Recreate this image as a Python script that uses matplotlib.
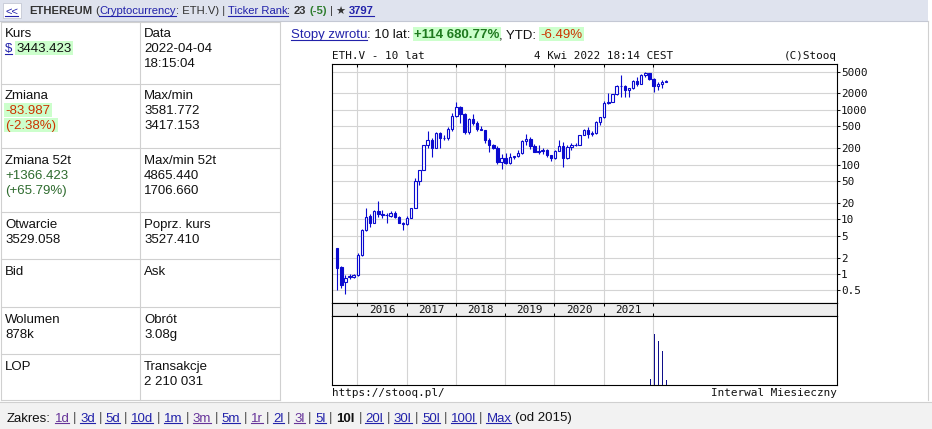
import matplotlib
matplotlib.use('Agg')
import matplotlib.pyplot as plt
from matplotlib.patches import Rectangle
from matplotlib.ticker import NullLocator
import pandas as pd

# monthly candles ETH.V, Aug 2015 .. Apr 2022
start_month = '2015-08'
opens = [3.00, 1.36, 0.70, 0.88, 0.88,
         0.95, 2.2, 6.4, 11.5, 8.6, 14.1, 12.6, 11.8, 11.6, 13.2, 11.1, 8.6,
         8.1, 10.7, 15.8, 50, 79, 228, 280, 202, 383, 301, 305, 445,
         760, 1118, 855, 397, 670, 578, 455, 433, 283, 233, 198, 113,
         133, 107, 136, 141, 162, 268, 294, 218, 172, 180, 182, 151,
         130, 180, 218, 133, 206, 231, 226, 345, 434, 359, 386, 612,
         737, 1314, 1417, 1918, 2773, 2706, 2275, 2536, 3433, 3001, 4288, 4631,
         3683, 2688, 2918, 3282]
highs = [3.02, 1.42, 0.96, 1.00, 1.00,
         2.4, 6.6, 15.9, 12.3, 14.9, 21.5, 14.8, 12.9, 14.0, 14.0, 11.3, 8.8,
         11.5, 16.4, 56, 80, 230, 420, 300, 395, 395, 350, 480, 860,
         1420, 1160, 880, 700, 835, 625, 515, 435, 300, 235, 222, 157,
         160, 165, 146, 185, 287, 362, 315, 235, 225, 198, 195, 152,
         185, 287, 254, 227, 245, 253, 347, 445, 487, 415, 620, 754,
         1475, 2040, 1947, 2797, 4380, 2890, 2550, 3470, 4030, 4460, 4890, 4780,
         3880, 3280, 3480, 3581]
lows = [0.51, 0.55, 0.43, 0.80, 0.85,
        0.92, 2.1, 6.1, 7.2, 8.4, 10.8, 10.6, 8.4, 11.2, 10.6, 8.4, 6.4,
        7.9, 10.4, 15.8, 42, 79, 200, 136, 198, 200, 285, 285, 420,
        750, 575, 370, 365, 525, 405, 425, 250, 168, 190, 102, 83,
        102, 104, 128, 139, 158, 232, 190, 167, 153, 157, 140, 117,
        127, 180, 90, 127, 183, 222, 226, 343, 310, 335, 370, 535,
        714, 1270, 1440, 1883, 1720, 1700, 1720, 2450, 2740, 2970, 3960, 3530,
        2160, 2300, 2500, 3210]
closes = [1.30, 0.62, 0.86, 0.90, 0.95,
          2.2, 6.4, 11.2, 8.6, 14.1, 12.3, 11.8, 12.0, 13.3, 11.2, 8.6, 8.1,
          10.7, 15.8, 50, 79, 228, 280, 202, 383, 301, 305, 445, 760,
          1118, 855, 397, 670, 578, 455, 433, 283, 233, 198, 113, 133,
          107, 136, 141, 162, 268, 294, 218, 172, 180, 182, 151, 130,
          180, 218, 133, 206, 231, 226, 345, 434, 359, 386, 612, 737,
          1314, 1417, 1918, 2773, 2706, 2275, 2536, 3433, 3001, 4288, 4631, 3683,
          2688, 2918, 3282, 3443]

vol_months = ['2021-12', '2022-01', '2022-02', '2022-03', '2022-04']
volumes = [5.3e6, 44.0e6, 38.0e6, 29.3e6, 3.9e6]

year_labels = [2016, 2017, 2018, 2019, 2020, 2021]
year_grid = [2016, 2017, 2018, 2019, 2020, 2021, 2022]
yticks = [0.5, 1, 2, 5, 10, 20, 50, 100, 200, 500, 1000, 2000, 5000]
ytick_labels = ['0.5', '1', '2', '5', '10', '20', '50', '100', '200', '500', '1000', '2000', '5000']

RED = '#cc3300'
GRN = '#2e6b2e'
HL = '#ccffcc'
LINK = '#2222aa'
VIS = '#663399'
TXT = '#111111'

W, H = 932, 429
SANS = ['Liberation Sans', 'DejaVu Sans']
MONO = 'DejaVu Sans Mono'
BLUE = '#0a0acf'
GRID = '#d4d4d4'

fig = plt.figure(figsize=(W / 100, H / 100), dpi=100)
renderer = fig.canvas.get_renderer()
ov = fig.add_axes([0, 0, 1, 1])
ov.set_xlim(0, W)
ov.set_ylim(H, 0)
ov.axis('off')


def width(s, kw):
    a = ov.text(0, 0, '|' + s + '|', **kw)
    b = ov.text(0, 0, '||', **kw)
    w = a.get_window_extent(renderer).width - b.get_window_extent(renderer).width
    a.remove()
    b.remove()
    return w


def seq(x, y, parts, size=9.5):
    for txt, st in parts:
        kw = dict(fontsize=size, family=SANS, fontweight=st.get('w', 'normal'))
        core = txt.strip()
        lead = txt[:len(txt) - len(txt.lstrip())]
        x0 = x + (width(lead, kw) if lead else 0)
        t = ov.text(x0, y, core, color=st.get('c', TXT), va='baseline', ha='left', zorder=3, **kw)
        bb = t.get_window_extent(renderer)
        if st.get('bg'):
            ov.add_patch(Rectangle((bb.x0 - 1.5, y - 11), bb.width + 3, 14, fc=st['bg'],
                                   ec='none', zorder=1))
        if st.get('u'):
            ov.plot([bb.x0, bb.x1], [y + 1.6, y + 1.6], color=st.get('c', TXT), lw=0.8, zorder=3)
        x += width(txt, kw)
    return x


N = {}
B = {'w': 'bold'}
L = {'c': LINK, 'u': True}
V = {'c': VIS, 'u': True}

# header bar
ov.add_patch(Rectangle((0, 0), 928, 20.5, fc='#dfe3ee', ec='none', zorder=0))
ov.plot([0, 928], [20.5, 20.5], color='#c4c8d4', lw=0.8)
ov.add_patch(Rectangle((2.5, 2.5), 18, 15.5, fc='white', ec='#c4c8d4', lw=0.6, zorder=1))
seq(5, 14.5, [('<<', L)], size=8.1)
seq(29, 14.5, [('ETHEREUM', {'w': 'bold', 'c': '#333333'}), (' (', {'c': '#333333'}),
               ('Cryptocurrency', L), (': ETH.V) | ', {'c': '#333333'}),
               ('Ticker Rank', L), (': ', {'c': '#333333'}), ('23', {'w': 'bold', 'c': '#333333'}),
               (' (-5)', {'w': 'bold', 'c': '#2e7d2e'}), (' | \u2605 ', {'c': '#333333'}),
               ('3797', {'w': 'bold', 'c': LINK, 'u': True})], size=8.1)

# left table
rows = [21.7, 84, 148.3, 212.3, 259.3, 307.3, 354.3, 400]
for r in rows:
    ov.plot([0.5, 279.5], [r, r], color='#d0d0d0', lw=0.8)
for cx in [0.5, 140.3, 279.5]:
    ov.plot([cx, cx], [rows[0], rows[-1]], color='#d0d0d0', lw=0.8)
ov.plot([928, 928], [20.5, 400], color='#d0d0d0', lw=0.8)

cells = [
    (0, [[('Kurs', N)], [('$', L), (' 3443.423', {'bg': HL})]],
        [[('Data', N)], [('2022-04-04', N)], [('18:15:04', N)]]),
    (1, [[('Zmiana', N)], [('-83.987', {'c': RED, 'bg': HL})], [('(-2.38%)', {'c': RED, 'bg': HL})]],
        [[('Max/min', N)], [('3581.772', N)], [('3417.153', N)]]),
    (2, [[('Zmiana 52t', N)], [('+1366.423', {'c': GRN})], [('(+65.79%)', {'c': GRN})]],
        [[('Max/min 52t', N)], [('4865.440', N)], [('1706.660', N)]]),
    (3, [[('Otwarcie', N)], [('3529.058', N)]], [[('Poprz. kurs', N)], [('3527.410', N)]]),
    (4, [[('Bid', N)]], [[('Ask', N)]]),
    (5, [[('Wolumen', N)], [('878k', N)]], [[('Obrót', N)], [('3.08g', N)]]),
    (6, [[('LOP', N)]], [[('Transakcje', N)], [('2 210 031', N)]]),
]
for ri, c1, c2 in cells:
    base = rows[ri] + 15.3
    for k, parts in enumerate(c1):
        seq(5, base + 15 * k, parts)
    for k, parts in enumerate(c2):
        seq(144, base + 15 * k, parts)

# returns line
seq(290.7, 38.3, [('Stopy zwrotu', L), (': 10 lat: ', N),
                  ('+114 680.77%', {'w': 'bold', 'c': '#1f7a1f', 'bg': HL}), (', YTD: ', N),
                  ('-6.49%', {'c': RED, 'bg': HL})])

# chart texts
mono = dict(family=MONO, fontsize=7.9, color='#111111', va='baseline')
ov.text(332, 59, 'ETH.V - 10 lat', ha='left', **mono)
ov.text(673, 59, '4 Kwi 2022 18:14 CEST', ha='right', **mono)
ov.text(837, 59, '(C)Stooq', ha='right', **mono)
ov.text(332, 396.5, 'https://stooq.pl/', ha='left', **mono)
ov.text(837, 396.5, 'Interwal Miesieczny', ha='right', **mono)


def px_axes(l, t, r, b):
    return fig.add_axes([l / W, 1 - b / H, (r - l) / W, (b - t) / H])


X0, X1 = 2015.487, 2025.73
PXY = (837 - 332) / (X1 - X0)

months = pd.date_range(start_month, periods=len(opens), freq='MS')
xs = [m.year + (m.month - 1) / 12 + 0.01 for m in months]

ax = px_axes(332, 64.3, 837, 303.3)
ax.set_yscale('log')
ax.set_xlim(X0, X1)
ax.set_ylim(0.2913, 6817)
ax.set_axisbelow(True)
for yr in year_grid:
    ax.axvline(yr, color=GRID, lw=0.8, zorder=0)
for v in yticks:
    ax.axhline(v, color=GRID, lw=0.8, zorder=0)
ax.yaxis.set_minor_locator(NullLocator())
ax.set_yticks(yticks)
ax.set_yticklabels(ytick_labels, family=MONO, fontsize=7.9)
ax.yaxis.tick_right()
ax.tick_params(axis='y', which='major', direction='out', length=2.2, pad=0.8,
               width=0.75, colors='#111111')
ax.set_xticks(year_grid)
ax.tick_params(axis='x', bottom=False, top=True, direction='in', length=2.2,
               width=0.75, labelbottom=False, labeltop=False)
for s in ax.spines.values():
    s.set_linewidth(0.8)

bw = 2.4 / PXY
for x, o, h, lo, c in zip(xs, opens, highs, lows, closes):
    ax.vlines(x, lo, h, color=BLUE, lw=0.8, zorder=2)
    b0, b1 = min(o, c), max(o, c)
    if b1 / b0 < 1.03:
        b1 = b0 * 1.03
    ax.add_patch(Rectangle((x - bw / 2, b0), bw, b1 - b0,
                           fc=BLUE if c < o else 'white', ec=BLUE, lw=0.8, zorder=3))

# date strip
ds = px_axes(332, 303.3, 837, 315.5)
ds.set_facecolor('#eeeeee')
ds.set_xlim(X0, X1)
ds.set_ylim(0, 1)
ds.set_yticks([])
ds.set_xticks(year_grid)
ds.tick_params(axis='x', bottom=True, top=True, direction='in', length=2.2,
               width=0.75, labelbottom=False)
for yr in year_labels:
    ds.text(yr + 0.5, 0.45, str(yr), ha='center', va='center', family=MONO,
            fontsize=7.9, color='#111111')
for s in ds.spines.values():
    s.set_linewidth(0.8)

# volume pane
vx = px_axes(332, 315.5, 837, 385)
vx.set_xlim(X0, X1)
vx.set_ylim(0, max(volumes) * 1.36)
vx.set_xticks([])
vx.set_yticks([])
for yr in year_grid:
    vx.axvline(yr, color=GRID, lw=0.8, zorder=0)
vol_x = [pd.Timestamp(m).year + (pd.Timestamp(m).month - 1) / 12 + 0.025 for m in vol_months]
vx.bar(vol_x, volumes, width=1.0 / PXY, color='#10108a', zorder=2)
for s in vx.spines.values():
    s.set_linewidth(0.8)
ov.add_patch(Rectangle((337, 322.5), 4.5, 5, fc='#0000cc', ec='#000066', lw=0.4, zorder=5))
ov.text(342.5, 329, 'Wolumen', ha='left', zorder=5, **mono)

# footer
ov.add_patch(Rectangle((0, 402), 932, 27, fc='#f2f2f2', ec='none', zorder=0))
ov.plot([0, 932], [402, 402], color='#d0d0d0', lw=0.8)
sep = (' | ', {'c': '#555555'})
foot = [('Zakres: ', N)]
for name, st in [('1d', V), ('3d', L), ('5d', L), ('10d', L), ('1m', L), ('3m', V), ('5m', L),
                 ('1r', V), ('2l', L), ('3l', V), ('5l', L), ('10l', B), ('20l', L), ('30l', L),
                 ('50l', L), ('100l', L)]:
    foot += [(name, st), sep]
foot += [('Max', L), (' (od 2015)', N)]
seq(7, 421.5, foot)

fig.savefig('out.png', dpi=100)
